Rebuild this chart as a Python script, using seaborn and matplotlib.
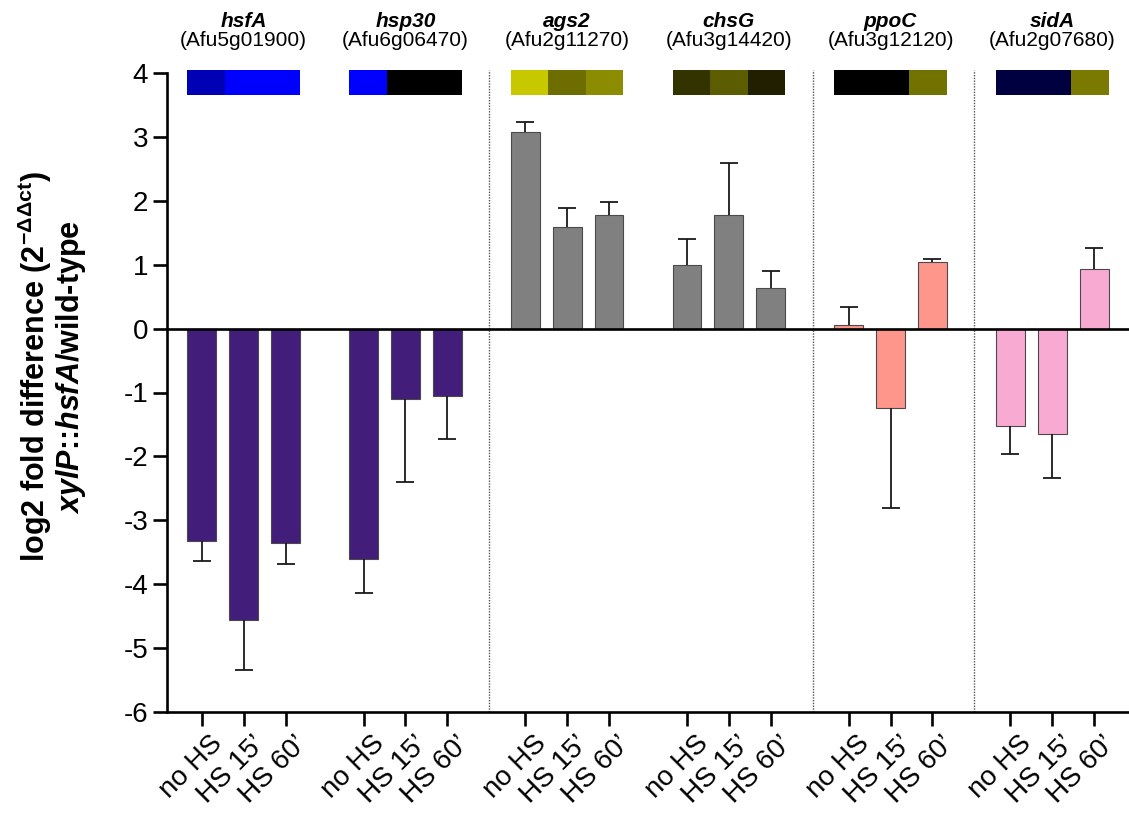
import numpy as np
import pandas as pd
import matplotlib
matplotlib.use("Agg")
import matplotlib.pyplot as plt
import matplotlib.transforms as mtransforms
import seaborn as sns

# ---- data -------------------------------------------------------------
genes = ["hsfA", "hsp30", "ags2", "chsG", "ppoC", "sidA"]
gene_ids = ["(Afu5g01900)", "(Afu6g06470)", "(Afu2g11270)",
            "(Afu3g14420)", "(Afu3g12120)", "(Afu2g07680)"]
conditions = ["no HS", "HS 15\u2019", "HS 60\u2019"]

hsfA_vals = [-3.33, -4.56, -3.36]
hsp30_vals = [-3.60, -1.10, -1.06]
ags2_vals = [3.07, 1.59, 1.77]
chsG_vals = [1.00, 1.77, 0.63]
ppoC_vals = [0.05, -1.25, 1.05]
sidA_vals = [-1.53, -1.65, 0.93]

hsfA_err = [0.30, 0.79, 0.32]
hsp30_err = [0.53, 1.30, 0.67]
ags2_err = [0.16, 0.29, 0.21]
chsG_err = [0.40, 0.82, 0.27]
ppoC_err = [0.29, 1.56, 0.04]
sidA_err = [0.44, 0.69, 0.33]

# expression heat strips (one cell per condition)
hsfA_strip = ["#0000B4", "#0000FF", "#0000FF"]
hsp30_strip = ["#0000FF", "#000000", "#000000"]
ags2_strip = ["#C8C800", "#6E6E00", "#8C8C00"]
chsG_strip = ["#333300", "#5C5C00", "#202000"]
ppoC_strip = ["#000000", "#000000", "#727200"]
sidA_strip = ["#000040", "#000040", "#7A7A00"]

bar_colors = {"hsfA": "#421E7A", "hsp30": "#421E7A", "ags2": "#808080",
              "chsG": "#808080", "ppoC": "#FF968C", "sidA": "#F9AAD2"}

values = [hsfA_vals, hsp30_vals, ags2_vals, chsG_vals, ppoC_vals, sidA_vals]
errors = [hsfA_err, hsp30_err, ags2_err, chsG_err, ppoC_err, sidA_err]
strips = [hsfA_strip, hsp30_strip, ags2_strip, chsG_strip, ppoC_strip, sidA_strip]

# ---- layout constants ---------------------------------------------------
GROUP_STEP = 3.86
BAR_W = 0.69

rows = []
for g, gene in enumerate(genes):
    for i, cond in enumerate(conditions):
        rows.append(dict(gene=gene, cond=cond, pos=g * GROUP_STEP + i,
                         value=values[g][i], err=errors[g][i]))
df = pd.DataFrame(rows)

sns.set_theme(style="white")
plt.rcParams["font.family"] = ["Liberation Sans", "DejaVu Sans"]
plt.rcParams["mathtext.fontset"] = "custom"
plt.rcParams["mathtext.rm"] = "Liberation Sans:bold"
plt.rcParams["mathtext.bf"] = "Liberation Sans:bold"
plt.rcParams["mathtext.it"] = "Liberation Sans:bold:italic"
plt.rcParams["axes.unicode_minus"] = False
plt.rcParams["text.color"] = "black"
plt.rcParams["axes.labelcolor"] = "black"

W, H = 1129, 816
fig = plt.figure(figsize=(W / 100, H / 100), dpi=100)
ax = fig.add_axes([167 / W, 1 - 712 / H, 962 / W, 639 / H])

sns.barplot(data=df, x="pos", y="value", hue="gene", palette=bar_colors,
            native_scale=True, width=BAR_W, dodge=False, errorbar=None,
            saturation=1, legend=False, edgecolor="#4a4a4a", linewidth=0.8,
            ax=ax, zorder=2)

# one-sided error bars pointing away from zero
for positive in (True, False):
    sub = df[(df.value >= 0) == positive]
    zeros = np.zeros(len(sub))
    yerr = [zeros, sub.err.values] if positive else [sub.err.values, zeros]
    _, caps, _ = ax.errorbar(sub.pos, sub.value, yerr=yerr, fmt="none",
                             ecolor="#1a1a1a", elinewidth=1.3, capsize=6.8,
                             capthick=1.3, zorder=3)
    for cap in caps:
        if np.allclose(cap.get_ydata(), sub.value.values):
            cap.remove()

ax.axhline(0, color="black", lw=1.9, zorder=4)

ax.set_xlim(-0.83, (len(genes) - 1) * GROUP_STEP + 2 + 0.83)
ax.set_ylim(-6, 4)
ax.set_yticks(range(-6, 5))

# dotted separators between gene families
for g in (1, 3, 4):
    sx = g * GROUP_STEP + 2 + (GROUP_STEP - 2) / 2 + 0.07
    ax.plot([sx, sx], [-6, 4.05], ls=(0, (1, 1)), color="#555555", lw=1.0,
            clip_on=False, zorder=1)

# heat strips and gene headers
span = 2 + BAR_W
cell = span / 3
for g, gene in enumerate(genes):
    left = g * GROUP_STEP - BAR_W / 2
    ax.bar([left + k * cell for k in range(3)], height=0.39, bottom=3.66,
           width=cell, align="edge", color=strips[g], linewidth=0,
           clip_on=False, zorder=5)
    cx = g * GROUP_STEP + 1
    ax.text(cx, 4.72, gene, ha="center", va="baseline", fontsize=15,
            fontstyle="italic", fontweight="bold", clip_on=False)
    ax.text(cx, 4.42, gene_ids[g], ha="center", va="baseline", fontsize=15,
            clip_on=False)

ax.set_xticks(df.pos)
ax.set_xticklabels(df.cond, rotation=45, ha="right", rotation_mode="anchor",
                   fontsize=20)
ax.tick_params(axis="both", direction="out", length=10, width=1.9,
               colors="black", labelsize=20, bottom=True, left=True)
ax.set_xlabel("")

# nudge the slanted condition labels so they end just right of each tick
shift = mtransforms.ScaledTranslation(8 / 100, 0, fig.dpi_scale_trans)
for tick in ax.xaxis.get_major_ticks():
    tick.label1.set_transform(tick.label1.get_transform() + shift)

for side in ("top", "right"):
    ax.spines[side].set_visible(False)
for side in ("left", "bottom"):
    ax.spines[side].set_linewidth(1.9)
    ax.spines[side].set_color("black")

ax.set_ylabel("log2 fold difference (2$^{\\mathbf{-\\Delta\\Delta ct}}$)\n"
              "$\\mathit{xylP}$::$\\mathit{hsfA}$/wild-type",
              fontsize=22, fontweight="bold", linespacing=1.0)
ax.yaxis.set_label_coords(-0.082, 0.54)

fig.savefig("out.png", dpi=100)
